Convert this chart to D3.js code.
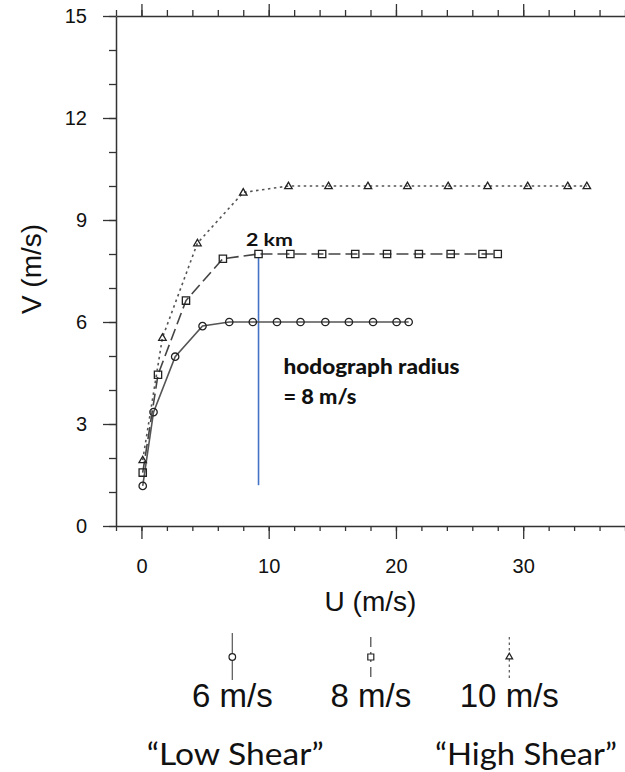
<!DOCTYPE html>
<html lang="en">
<head>
	<meta charset="UTF-8">
	<title>Hodograph</title>
	<script src="https://d3js.org/d3.v7.min.js"></script>
	<style>
		body{ margin:0; background:#fff; }
		svg text{ font-family:"Liberation Sans", Arial, sans-serif; fill:#111; }
		.note{ font-family:Lato, "Open Sans", sans-serif; }
	</style>
</head>
<body>
	<div id="chart"></div>
	<script>
		// wind profiles: U and V components (m/s)
		const lowU  = [0.1, 0.95, 2.65, 4.8, 6.9, 8.75, 10.65, 12.5, 14.45, 16.3, 18.2, 20.05, 21.0];
		const lowV  = [1.18, 3.35, 4.98, 5.88, 6.0, 6.0, 6.0, 6.0, 6.0, 6.0, 6.0, 6.0, 6.0];
		const midU  = [0.1, 1.3, 3.5, 6.4, 9.2, 11.7, 14.2, 16.8, 19.3, 21.8, 24.3, 26.8, 28.0];
		const midV  = [1.57, 4.45, 6.63, 7.86, 8.0, 8.0, 8.0, 8.0, 8.0, 8.0, 8.0, 8.0, 8.0];
		const highU = [0.1, 1.65, 4.4, 8.0, 11.55, 14.7, 17.8, 20.9, 24.1, 27.2, 30.35, 33.5, 35.0];
		const highV = [1.94, 5.54, 8.32, 9.81, 10.0, 10.0, 10.0, 10.0, 10.0, 10.0, 10.0, 10.0, 10.0];
		const seriesNames = ["6 m/s", "8 m/s", "10 m/s"];
		const yTicks = [0, 3, 6, 9, 12, 15];
		const xTicks = [0, 10, 20, 30];
		// blue radius marker at 2 km
		const radiusU = 9.2;
		const radiusV = [1.2, 7.9];

		const width = 625, height = 772;
		const svg = d3.select('#chart').append('svg')
			.attr('width', width).attr('height', height);

		const x = d3.scaleLinear().domain([-2, 38]).range([116, 625]);
		const y = d3.scaleLinear().domain([0, 15]).range([526, 16]);

		const ink = '#333';
		const minorX = d3.range(-2, 39, 2);
		const minorY = d3.range(0, 16, 1);

		function styleAxis(g){
			g.selectAll('path').attr('stroke', ink).attr('stroke-width', 1.5);
			g.selectAll('line').attr('stroke', ink).attr('stroke-width', 1.3);
		}

		// bottom axis
		svg.append('g').attr('transform', 'translate(0,526)')
			.call(d3.axisBottom(x).tickValues(minorX).tickSize(5).tickSizeOuter(0).tickFormat(''))
			.call(styleAxis);
		const xb = svg.append('g').attr('transform', 'translate(0,526)')
			.call(d3.axisBottom(x).tickValues(xTicks).tickSize(13).tickSizeOuter(0).tickPadding(20))
			.call(styleAxis);
		xb.select('path').remove();
		xb.selectAll('text').attr('font-size', 20).attr('fill', '#111')
			.attr('font-family', '"Liberation Sans", Arial, sans-serif');

		// top axis
		svg.append('g').attr('transform', 'translate(0,16)')
			.call(d3.axisTop(x).tickValues(minorX).tickSize(6).tickSizeOuter(0).tickFormat(''))
			.call(styleAxis);
		svg.append('g').attr('transform', 'translate(0,16)')
			.call(d3.axisTop(x).tickValues(xTicks).tickSize(12).tickSizeOuter(0).tickFormat(''))
			.call(styleAxis).select('path').remove();

		// left axis
		svg.append('g').attr('transform', 'translate(116,0)')
			.call(d3.axisLeft(y).tickValues(minorY).tickSize(7).tickSizeOuter(0).tickFormat(''))
			.call(styleAxis);
		const yl = svg.append('g').attr('transform', 'translate(116,0)')
			.call(d3.axisLeft(y).tickValues(yTicks).tickSize(13).tickSizeOuter(0).tickPadding(16))
			.call(styleAxis);
		yl.select('path').remove();
		yl.selectAll('text').attr('font-size', 20).attr('fill', '#111')
			.attr('font-family', '"Liberation Sans", Arial, sans-serif');

		// axis titles
		svg.append('text').attr('x', 370.5).attr('y', 611).attr('text-anchor', 'middle')
			.attr('font-size', 28).text('U (m/s)');
		svg.append('text').attr('transform', 'translate(41,269) rotate(-90)')
			.attr('text-anchor', 'middle').attr('font-size', 28).text('V (m/s)');

		// series
		const series = [
			{u: lowU, v: lowV, dash: null, lineColor: '#555', marker: 'circle'},
			{u: midU, v: midV, dash: '12,5', lineColor: '#444', marker: 'square'},
			{u: highU, v: highV, dash: '2.5,3.5', lineColor: '#555', marker: 'triangle'}
		];
		const line = d3.line().x(d => x(d[0])).y(d => y(d[1]));

		const symbols = {
			circle: d3.symbol().type(d3.symbolCircle).size(Math.PI * 3.7 * 3.7),
			square: d3.symbol().type(d3.symbolSquare).size(7.3 * 7.3),
			triangle: d3.symbol().type(d3.symbolTriangle2).size(40)
		};

		// blue line behind markers
		svg.append('line')
			.attr('x1', x(radiusU)).attr('x2', x(radiusU))
			.attr('y1', y(radiusV[0])).attr('y2', y(radiusV[1]))
			.attr('stroke', '#4472c4').attr('stroke-width', 1.6);

		series.forEach(s => {
			const pts = s.u.map((u, i) => [u, s.v[i]]);
			svg.append('path').datum(pts)
				.attr('d', line)
				.attr('fill', 'none')
				.attr('stroke', s.lineColor)
				.attr('stroke-width', 1.6)
				.attr('stroke-dasharray', s.dash);
			svg.append('g').selectAll('path').data(pts).enter().append('path')
				.attr('d', symbols[s.marker])
				.attr('transform', d => `translate(${x(d[0])},${y(d[1]) + (s.marker === 'triangle' ? 0.5 : 0)})`)
				.attr('fill', 'none')
				.attr('stroke', '#222')
				.attr('stroke-width', 1.3);
		});

		// annotations
		svg.append('text').attr('class', 'note').attr('x', 246).attr('y', 246)
			.attr('font-size', 16.5).attr('font-weight', 'bold')
			.attr('textLength', 47).attr('lengthAdjust', 'spacingAndGlyphs').text('2 km');
		svg.append('text').attr('class', 'note').attr('x', 283.5).attr('y', 374)
			.attr('font-size', 20).attr('font-weight', 900)
			.attr('textLength', 176).attr('lengthAdjust', 'spacingAndGlyphs').text('hodograph radius');
		svg.append('text').attr('class', 'note').attr('x', 283.5).attr('y', 403.5)
			.attr('font-size', 20).attr('font-weight', 900)
			.attr('textLength', 73).attr('lengthAdjust', 'spacingAndGlyphs').text('= 8 m/s');

		// legend
		const lx = d3.scalePoint().domain(seriesNames).range([232.3, 509.3]);
		seriesNames.forEach((name, i) => {
			const s = series[i];
			const cx = lx(name);
			svg.append('line').attr('x1', cx).attr('x2', cx)
				.attr('y1', i === 0 ? 633 : 637).attr('y2', 680)
				.attr('stroke', s.lineColor).attr('stroke-width', 1.2)
				.attr('stroke-dasharray', i === 1 ? '10,5' : (i === 2 ? '2.5,3' : null));
			svg.append('path').attr('d', d3.symbol().type(
					s.marker === 'circle' ? d3.symbolCircle : s.marker === 'square' ? d3.symbolSquare : d3.symbolTriangle2
				).size(s.marker === 'circle' ? Math.PI * 3.3 * 3.3 : s.marker === 'square' ? 36 : 32)())
				.attr('transform', `translate(${cx},657)`)
				.attr('fill', '#fff').attr('stroke', '#222').attr('stroke-width', 1.2);
			svg.append('text').attr('x', cx).attr('y', 707).attr('text-anchor', 'middle')
				.attr('font-size', 33).text(name);
		});

		svg.append('text').attr('class', 'note').attr('x', 146.7).attr('y', 765)
			.attr('font-size', 30).attr('textLength', 177).attr('lengthAdjust', 'spacingAndGlyphs')
			.text('\u201CLow Shear\u201D');
		svg.append('text').attr('class', 'note').attr('x', 435).attr('y', 765)
			.attr('font-size', 30).attr('textLength', 182).attr('lengthAdjust', 'spacingAndGlyphs')
			.text('\u201CHigh Shear\u201D');
	</script>
</body>
</html>
